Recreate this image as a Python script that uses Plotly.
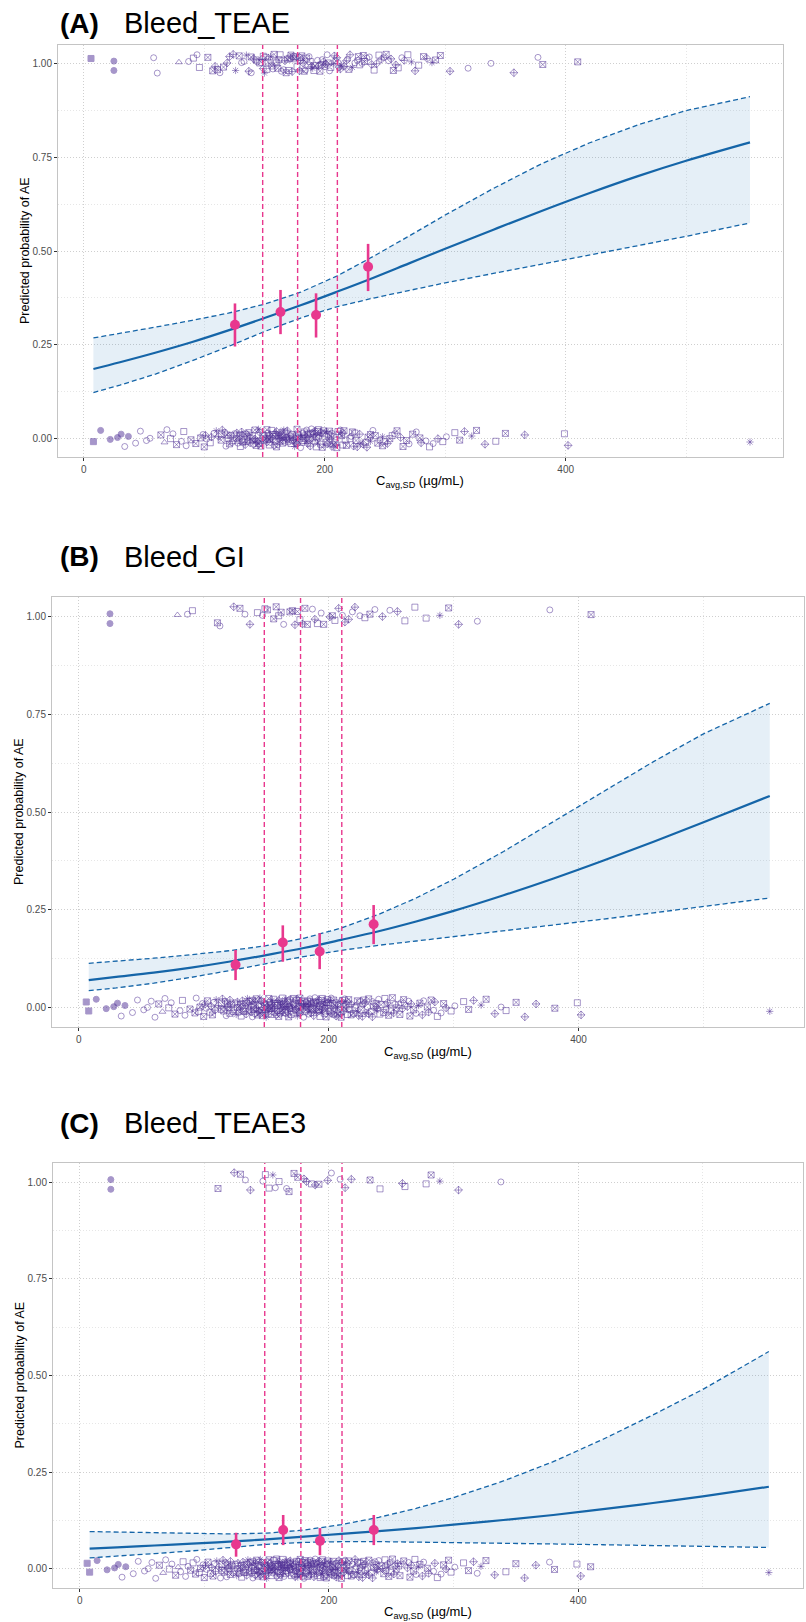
import plotly.graph_objects as go
from collections import Counter

# ---------------- data ----------------
# individual exposures (Cavg,SD, ug/mL), shared by the three endpoints
exposure = [
    6, 8, 14, 22, 25, 25, 28, 31, 34, 37, 43, 47, 52, 55, 58, 61, 64, 67, 69, 72, 74, 77, 79, 81, 83, 85, 87, 89, 91, 93, 94, 96, 97, 99,
    100, 101, 102, 103, 105, 106, 107, 108, 109,
    110, 111, 112, 113, 114, 114, 115, 116, 117, 118, 119, 119,
    120, 121, 121, 122, 123, 124, 124, 125, 126, 127, 127, 128, 129, 129,
    130, 130, 131, 131, 132, 133, 133, 134, 134, 135, 136, 136, 137, 137, 138, 138, 139, 139,
    140, 140, 141, 141, 142, 142, 143, 143, 144, 144, 145, 145, 146, 146, 146, 147, 147, 148, 148, 149, 149, 149,
    150, 150, 151, 151, 151, 152, 152, 152, 153, 153, 154, 154, 154, 155, 155, 155, 156, 156, 157, 157, 157, 158, 158, 159, 159, 159,
    160, 160, 160, 161, 161, 161, 162, 162, 163, 163, 163, 164, 164, 164, 165, 165, 166, 166, 166, 167, 167, 167, 168, 168, 169, 169, 169,
    170, 170, 170, 171, 171, 172, 172, 172, 173, 173, 173, 174, 174, 175, 175, 175, 176, 176, 176, 177, 177, 177, 178, 178, 179, 179, 179,
    180, 180, 180, 181, 181, 182, 182, 182, 183, 183, 183, 184, 184, 185, 185, 185, 186, 186, 186, 187, 187, 188, 188, 188, 189, 189,
    190, 190, 190, 191, 191, 192, 192, 192, 193, 193, 194, 194, 194, 195, 195, 195, 196, 196, 197, 197, 197, 198, 198, 199, 199,
    200, 200, 201, 201, 201, 202, 202, 203, 203, 204, 204, 204, 205, 205, 206, 206, 207, 207, 208, 208, 209, 209,
    210, 210, 211, 211, 212, 212, 213, 213, 214, 214, 215, 215, 216, 216, 217, 218, 218, 219,
    220, 221, 221, 222, 223, 223, 224, 225, 225, 226, 227, 227, 228, 229, 229,
    230, 231, 232, 232, 233, 234, 235, 235, 236, 237, 238, 238, 239,
    240, 241, 242, 243, 244, 245, 246, 247, 248, 248, 249,
    250, 251, 252, 253, 254, 255, 256, 257, 258, 259,
    260, 261, 263, 264, 265, 266, 268, 269,
    270, 272, 273, 275, 276, 278, 279,
    280, 282, 284, 285, 287, 289,
    290, 292, 294, 296, 298,
    301, 304, 308, 312, 316, 319,
    322, 326, 333, 338,
    342, 350, 357,
    366, 377,
    381, 399,
    402, 410,
    553,
]

# vertical jitter of each observation (thousandths of the probability scale)
jitter_milli = [
    14, -9, 21, -3, 7, -18, 2, 11, -22, 5, -13, 19, -6, 0, 16, -25, 9, -11, 23, -1, 12, -17, 4, -8, 18,
    -20, 6, -4, 15, -14, 24, -10, 1, 10, -23, 8, -2, 17, -12, 3, -19, 13, -7, 20, -16, 5, -24, 11, -5, 22,
    -9, 16, -21, 2, 9, -1, 19, -15, 7, -11, 25, -6, 12, -18, 0, 14, -13, 21, -4, 8, -22, 3, 17, -10, 6,
    -3, 11, -17, 23, -8, 4, -20, 15, 1, -12, 18, -24, 7, -5, 13, -16, 22, -2, 10, -19, 5, -9, 24, -14, 2,
    16, -7, 3, -21, 12, -1, 20, -13, 6, -25, 9, 17, -4, 0, -15, 23, -10, 4, 14, -18, 8, -3, 19, -11, 1,
    -6, 21, -14, 10, -2, 25, -19, 5, 13, -9, 2, -23, 18, -12, 7, -17, 11, -1, 24, -8, 15, -20, 3, 9, -13,
    4, -16, 22, -5, 8, -11, 17, -24, 1, 12, -3, 20, -18, 6, -10, 15, -2, 23, -14, 7, -21, 10, -7, 19, -4,
    13, -22, 0, 18, -12, 5, -8, 24, -15, 3, 11, -19, 16, -1, 9, -25, 6, 21, -11, 2, -6, 14, -20, 8, 17,
    -17, 3, 15, -9, 22, -4, 10, -14, 19, -2, 6, -21, 13, -7, 25, -12, 1, 16, -18, 11, -5, 20, -10, 4, -23,
    9, -13, 18, -6, 1, 23, -20, 7, -3, 14, -16, 11, -24, 5, 20, -8, 12, -1, 17, -11, 24, -15, 2, 10, -19,
    -2, 19, -10, 6, -22, 13, 0, -17, 21, -5, 8, -12, 16, -25, 3, 18, -9, 11, -14, 22, -4, 7, -18, 15, -7,
    20, -5, 8, -19, 12, -15, 24, -1, 5, -10, 17, -21, 2, 14, -6, 9, -23, 19, -3, 11, -13, 1, 22, -16, 6,
    -11, 15, -24, 3, 18, -8, 10, -2, 21, -17, 7, 0, -13, 23, -5, 12, -20, 4, 16, -9, 25, -14, 8, -1, 13,
    7, -18, 12, -3, 20, -11, 2, 16, -22, 9, -6, 24, -15, 5, 11, -19, 17, -4, 1, -12, 19, -7, 14, -23, 3,
    -14, 10, -1, 22, -9, 4, -20, 15, -5, 18, -12, 6, 21, -16, 1, -8, 13, -24, 9, 17, -2, 12, -19, 5, -10,
]

# study / marker-shape code of each observation
shape_codes = (
    "665555550" "5000000" "1407014" "0700171" "0710"
    "12017210231207121002172110270312012170210712301217"
    "21071201271023172101207213012071210721302170121072"
    "07121301271202171031207121027301217021072130120712"
    "10271203172101270213071201721203107212017031207121"
    "27012107231021702171203127012107212031702172101270"
    "31207102172301217021031207121702130712012710217201"
    "2170312071210273012170271203120712"
    "20172130712017203"
)

# exposures of subjects with an event, per endpoint
events_A = [6, 25, 25, 58, 61, 79, 87, 91, 94, 96,
            103, 107, 109, 111, 113, 116, 119, 121, 124, 126, 129,
            131, 133, 135, 137, 139, 139, 141, 143, 144, 146, 147, 148, 149, 149,
            150, 151, 152, 153, 155, 156, 157, 158, 159,
            160, 161, 162, 163, 164, 166, 167, 168, 169,
            170, 171, 172, 173, 174, 175, 176, 177, 179, 179,
            180, 181, 182, 183, 184, 185, 186, 187, 188, 189,
            190, 191, 192, 194, 195, 196, 197, 198, 199,
            200, 201, 202, 203, 204, 205, 207, 208, 209,
            210, 211, 212, 213, 214, 216, 218, 219,
            220, 221, 223, 225, 227, 228, 229,
            231, 232, 233, 235, 237, 239,
            241, 243, 245, 247, 249,
            251, 253, 255, 257, 259,
            261, 264, 266, 269, 272, 275, 278, 282, 285, 289, 292, 296,
            304, 319, 338, 357, 377, 381, 410]
events_B = [25, 25, 79, 87, 91, 111, 113, 124, 129, 133, 137, 143, 147, 149,
            151, 156, 158, 160, 162, 164, 169, 171, 173, 175, 177, 179,
            181, 183, 187, 189, 191, 194, 196, 201, 203, 205, 208,
            211, 213, 216, 219, 221, 225, 229, 233, 237, 243, 249,
            255, 261, 269, 278, 289, 296, 304, 319, 377, 410]
events_C = [25, 25, 111, 124, 129, 133, 137, 147, 149, 152, 155, 157, 160, 166, 168,
            172, 175, 180, 182, 186, 189, 192, 199, 202, 209, 213, 218, 233, 241, 259, 261,
            278, 282, 289, 304, 338]

# model-predicted probability and 95% CI
curve_x = [8, 30, 60, 90, 120, 150, 180, 210, 240, 270, 300, 340, 380, 420, 460, 500, 553]
A_mean = [.185, .203, .229, .257, .288, .321, .355, .391, .428, .467, .506, .557, .607, .655, .700, .741, .790]
A_lo = [.122, .142, .172, .207, .245, .285, .321, .351, .374, .395, .415, .440, .465, .490, .515, .539, .575]
A_hi = [.268, .280, .297, .315, .334, .358, .390, .433, .485, .540, .596, .667, .733, .789, .837, .875, .912]
B_mean = [.070, .078, .089, .102, .117, .134, .152, .173, .195, .220, .247, .287, .330, .376, .424, .474, .541]
B_lo = [.043, .050, .062, .077, .094, .112, .130, .146, .159, .170, .181, .196, .211, .226, .242, .259, .280]
B_hi = [.113, .118, .126, .135, .145, .158, .177, .203, .238, .280, .328, .399, .476, .554, .629, .700, .778]
C_mean = [.052, .055, .060, .065, .070, .076, .083, .090, .097, .105, .114, .126, .139, .154, .170, .187, .212]
C_lo = [.028, .032, .039, .046, .055, .063, .068, .070, .070, .069, .068, .066, .064, .062, .060, .058, .055]
C_hi = [.096, .095, .093, .091, .090, .092, .100, .114, .133, .156, .184, .227, .277, .335, .398, .464, .562]

# observed proportion by exposure quartile (mean exposure of the quartile) with 95% CI
bin_x = [125.5, 163.3, 192.8, 236.0]
A_obs = [.303, .337, .329, .458]
A_obs_lo = [.245, .278, .269, .393]
A_obs_hi = [.360, .396, .387, .519]
B_obs = [.109, .166, .143, .213]
B_obs_lo = [.070, .117, .098, .162]
B_obs_hi = [.147, .210, .190, .262]
C_obs = [.063, .100, .072, .100]
C_obs_lo = [.031, .061, .035, .061]
C_obs_hi = [.093, .139, .105, .139]

# exposure quartile boundaries
quartiles = [148.5, 177.5, 210.5]

x_ticks = [0, 200, 400]
x_minor = [100, 300, 500]
y_ticks = [0, 0.25, 0.5, 0.75, 1.0]
y_minor = [0.125, 0.375, 0.625, 0.875]

# ---------------- styling ----------------
W, H = 806, 1622
FONT = "Liberation Sans, Arial, Helvetica, sans-serif"
BLUE = "#1565a8"
FILL = "rgba(40,120,190,0.12)"
PINK = "#e8388e"
PURPLE = "#4f2f96"
SYMBOLS = {'0': 'circle-open', '1': 'square-x-open', '2': 'diamond-cross-open', '3': 'asterisk-open',
           '4': 'triangle-up-open', '5': 'circle', '6': 'square', '7': 'square-open'}


def px_x(v):
    return v / W


def px_y(v):
    return 1 - v / H


panels = [
    dict(label="(A)", name="Bleed_TEAE", events=events_A, mean=A_mean, lo=A_lo, hi=A_hi,
         obs=A_obs, obs_lo=A_obs_lo, obs_hi=A_obs_hi,
         xd=(58, 783), yd=(45, 457), ytitle_x=25, xtitle_y=481, title_y=23),
    dict(label="(B)", name="Bleed_GI", events=events_B, mean=B_mean, lo=B_lo, hi=B_hi,
         obs=B_obs, obs_lo=B_obs_lo, obs_hi=B_obs_hi,
         xd=(52, 804), yd=(597, 1027), ytitle_x=19, xtitle_y=1052, title_y=557),
    dict(label="(C)", name="Bleed_TEAE3", events=events_C, mean=C_mean, lo=C_lo, hi=C_hi,
         obs=C_obs, obs_lo=C_obs_lo, obs_hi=C_obs_hi,
         xd=(53, 803), yd=(1163, 1588), ytitle_x=19, xtitle_y=1612, title_y=1123),
]

fig = go.Figure()
annotations = []
shapes = []

for k, p in enumerate(panels):
    sfx = "" if k == 0 else str(k + 1)
    xa, ya = "x" + sfx, "y" + sfx

    # observed data (jittered at 0 / 1)
    remaining = Counter(p["events"])
    ox, oy, osym = [], [], []
    for i, v in enumerate(exposure):
        base = 0.0
        if remaining[v] > 0:
            base = 1.0
            remaining[v] -= 1
        ox.append(v)
        oy.append(base + jitter_milli[i % len(jitter_milli)] / 1000.0)
        osym.append(SYMBOLS[shape_codes[i % len(shape_codes)]])
    fig.add_trace(go.Scatter(
        x=ox, y=oy, mode="markers", xaxis=xa, yaxis=ya, hoverinfo="skip",
        marker=dict(symbol=osym, size=6, color=PURPLE, opacity=0.5,
                    line=dict(width=1, color=PURPLE))))

    # CI band
    fig.add_trace(go.Scatter(x=curve_x, y=p["lo"], mode="lines", xaxis=xa, yaxis=ya,
                             line=dict(width=0, color=BLUE), hoverinfo="skip"))
    fig.add_trace(go.Scatter(x=curve_x, y=p["hi"], mode="lines", xaxis=xa, yaxis=ya,
                             line=dict(width=0, color=BLUE), fill="tonexty", fillcolor=FILL,
                             hoverinfo="skip"))
    for arr in (p["lo"], p["hi"]):
        fig.add_trace(go.Scatter(x=curve_x, y=arr, mode="lines", xaxis=xa, yaxis=ya,
                                 line=dict(width=1.3, color=BLUE, dash="5px,3px"),
                                 hoverinfo="skip"))
    fig.add_trace(go.Scatter(x=curve_x, y=p["mean"], mode="lines", xaxis=xa, yaxis=ya,
                             line=dict(width=2.2, color=BLUE, shape="spline"), hoverinfo="skip"))

    # observed proportions per quartile
    fig.add_trace(go.Scatter(
        x=bin_x, y=p["obs"], mode="markers", xaxis=xa, yaxis=ya,
        marker=dict(size=10, color=PINK),
        error_y=dict(type="data", symmetric=False,
                     array=[h - m for h, m in zip(p["obs_hi"], p["obs"])],
                     arrayminus=[m - l for m, l in zip(p["obs"], p["obs_lo"])],
                     color=PINK, thickness=2.6, width=0)))

    for q in quartiles:
        shapes.append(dict(type="line", xref=xa, yref=ya + " domain", x0=q, x1=q, y0=0, y1=1,
                           line=dict(color=PINK, width=1.4, dash="5px,3px"), layer="above"))

    axis_common = dict(
        showline=True, mirror=True, linecolor="#c4c4c4", linewidth=1,
        ticks="outside", ticklen=3, tickwidth=1, tickcolor="#333333",
        tickfont=dict(family=FONT, size=10, color="#4d4d4d"),
        showgrid=True, gridcolor="#cfcfcf", gridwidth=1, griddash="1px,2px",
        zeroline=False,
    )
    xd, yd = p["xd"], p["yd"]
    fig.update_layout({
        "xaxis" + sfx: dict(axis_common, domain=[px_x(xd[0]), px_x(xd[1])], range=[-21.4, 580.4],
                            tickvals=x_ticks, ticktext=[str(t) for t in x_ticks],
                            minor=dict(tickvals=x_minor, showgrid=True, gridcolor="#e6e6e6",
                                       griddash="1px,2px", ticks=""),
                            anchor=ya),
        "yaxis" + sfx: dict(axis_common, domain=[px_y(yd[1]), px_y(yd[0])], range=[-0.05, 1.05],
                            tickvals=y_ticks, ticktext=["%.2f" % t for t in y_ticks],
                            minor=dict(tickvals=y_minor, showgrid=True, gridcolor="#e6e6e6",
                                       griddash="1px,2px", ticks=""),
                            anchor=xa),
    })

    # panel titles
    annotations.append(dict(text="<b>%s</b>" % p["label"], x=px_x(58), y=px_y(p["title_y"]),
                            xref="paper", yref="paper", xanchor="left", yanchor="middle",
                            showarrow=False, font=dict(family=FONT, size=28, color="#000000")))
    annotations.append(dict(text=p["name"], x=px_x(122), y=px_y(p["title_y"]),
                            xref="paper", yref="paper", xanchor="left", yanchor="middle",
                            showarrow=False, font=dict(family=FONT, size=29, color="#000000")))
    # axis titles
    annotations.append(dict(text="Predicted probability of AE", textangle=-90,
                            x=px_x(p["ytitle_x"]), y=px_y((yd[0] + yd[1]) / 2),
                            xref="paper", yref="paper", xanchor="center", yanchor="middle",
                            showarrow=False, font=dict(family=FONT, size=12.5, color="#000000")))
    annotations.append(dict(text="C<sub>avg,SD</sub> (\u00b5g/mL)",
                            x=px_x((xd[0] + xd[1]) / 2), y=px_y(p["xtitle_y"]),
                            xref="paper", yref="paper", xanchor="center", yanchor="middle",
                            showarrow=False, font=dict(family=FONT, size=13, color="#000000")))

fig.update_layout(
    width=W, height=H, autosize=False,
    margin=dict(l=0, r=0, t=0, b=0),
    paper_bgcolor="white", plot_bgcolor="white",
    showlegend=False,
    annotations=annotations, shapes=shapes,
    font=dict(family=FONT),
)

fig.write_html("out.html", config={"displayModeBar": False},
               post_script="document.body.style.margin='0';")
